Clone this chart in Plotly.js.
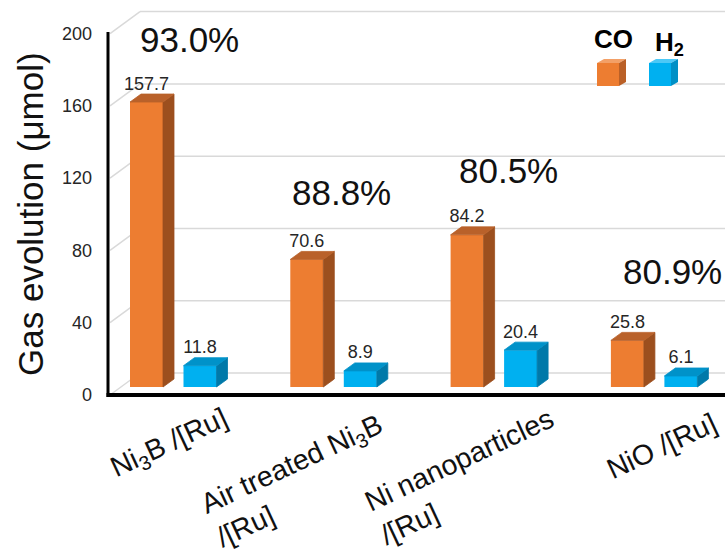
<!DOCTYPE html>
<html><head><meta charset="utf-8">
<script src="https://cdn.plot.ly/plotly-3.0.1.min.js"></script>
<style>html,body{margin:0;padding:0;background:#fff}#chart{width:725px;height:555px}</style>
</head><body><div id="chart"></div>
<script>
// ---------- data ----------
const categories = ['Ni<sub>3</sub>B /[Ru]', 'Air treated Ni<sub>3</sub>B<br>/[Ru]', 'Ni nanoparticles<br>/[Ru]', 'NiO /[Ru]'];
const coValues = [157.7, 70.6, 84.2, 25.8];
const h2Values = [11.8, 8.9, 20.4, 6.1];
const selectivity = ['93.0%', '88.8%', '80.5%', '80.9%'];
const yTicks = [0, 40, 80, 120, 160, 200];
const seriesNames = ['CO', 'H<sub>2</sub>'];

// ---------- geometry / style ----------
const FONT = 'Liberation Sans, Arial, sans-serif';
const PL = 108, PR = 725, PT = 5, PB = 402;
const X0 = -0.4086, X1 = 3.4404, KX = (PR - PL) / (X1 - X0);
const Y0 = -8.30, Y1 = 211.40, KY = (PB - PT) / (Y1 - Y0);
const BAR_W = 33 / KX, DX = 11 / KX, DY = 8 / KY;
const OFF = [-27 / KX, 26.5 / KX];
const WALL_DY = 14 / KY, LABEL_SHIFT = 8 / KY, WALL_X = X0 + 32 / KX, DIAG_X = X0 + 2 / KX;
const paperX = px => (px - PL) / (PR - PL);
const paperY = py => (PB - py) / (PB - PT);
const dataX = px => X0 + (px - PL) / KX;
const dataY = py => Y0 + (PB - py) / KY;
const COL = {
  co: {front: '#ED7D31', top: '#B9612A', side: '#9C4F1E', ltop: '#F3A067', lside: '#BA6027'},
  h2: {front: '#00B0F0', top: '#0092C9', side: '#0079A9', ltop: '#4CC8F6', lside: '#0090C6'}
};

function faces(vals, off) {
  const sx = [], sy = [], tx = [], ty = [];
  vals.forEach((v, i) => {
    const xl = i + off - BAR_W / 2, xr = i + off + BAR_W / 2;
    sx.push(xr, xr, xr + DX, xr + DX, xr, null); sy.push(0, v, v + DY, DY, 0, null);
    tx.push(xl, xr, xr + DX, xl + DX, xl, null); ty.push(v, v, v + DY, v + DY, v, null);
  });
  return {sx, sy, tx, ty};
}

const traces = [];
[[coValues, COL.co, OFF[0]], [h2Values, COL.h2, OFF[1]]].forEach(([vals, c, off], k) => {
  traces.push({type: 'bar', x: vals.map((_, i) => i + off), y: vals, width: BAR_W,
    marker: {color: c.front, line: {width: 0}}, showlegend: false, hoverinfo: 'skip', name: seriesNames[k]});
  const f = faces(vals, off);
  traces.push({type: 'scatter', x: f.sx, y: f.sy, mode: 'lines', fill: 'toself', fillcolor: c.side,
    line: {width: 0.8, color: c.side}, showlegend: false, hoverinfo: 'skip'});
  traces.push({type: 'scatter', x: f.tx, y: f.ty, mode: 'lines', fill: 'toself', fillcolor: c.top,
    line: {width: 0.8, color: c.top}, showlegend: false, hoverinfo: 'skip'});
});
[[coValues, OFF[0]], [h2Values, OFF[1]]].forEach(([vals, off]) => {
  traces.push({type: 'scatter', mode: 'text', x: vals.map((_, i) => i + off), y: vals.map(v => v + DY),
    text: vals.map(v => v.toFixed(1)), textposition: 'top center',
    textfont: {family: FONT, size: 18, color: '#262626'}, cliponaxis: false, showlegend: false, hoverinfo: 'skip'});
});

// ---------- shapes ----------
const shapes = [];
yTicks.forEach(t => {
  shapes.push({type: 'line', layer: 'below', xref: 'x', yref: 'y', x0: WALL_X, x1: X1, y0: t + WALL_DY, y1: t + WALL_DY,
    line: {color: '#d9d9d9', width: 1.5}});
  shapes.push({type: 'line', layer: 'below', xref: 'x', yref: 'y', x0: DIAG_X, x1: WALL_X, y0: t - LABEL_SHIFT, y1: t + WALL_DY,
    line: {color: '#d9d9d9', width: 1.5}});
});
// axis lines
shapes.push({type: 'line', xref: 'paper', yref: 'paper', x0: 0, x1: 0, y0: paperY(397), y1: paperY(32), line: {color: '#000', width: 3}});
shapes.push({type: 'line', xref: 'paper', yref: 'paper', x0: paperX(106.5), x1: 1, y0: paperY(395), y1: paperY(395), line: {color: '#000', width: 4}});
// legend cubes
function cube(x, y, w, h, dx, dy, c) {
  const P = (a, b) => paperX(a).toFixed(5) + ',' + paperY(b).toFixed(5);
  return [
    {type: 'path', xref: 'paper', yref: 'paper', path: `M${P(x, y)} L${P(x + w, y)} L${P(x + w, y + h)} L${P(x, y + h)} Z`, fillcolor: c.front, line: {width: 0}},
    {type: 'path', xref: 'paper', yref: 'paper', path: `M${P(x, y)} L${P(x + w, y)} L${P(x + w + dx, y - dy)} L${P(x + dx, y - dy)} Z`, fillcolor: c.ltop, line: {width: 0}},
    {type: 'path', xref: 'paper', yref: 'paper', path: `M${P(x + w, y)} L${P(x + w + dx, y - dy)} L${P(x + w + dx, y + h - dy)} L${P(x + w, y + h)} Z`, fillcolor: c.lside, line: {width: 0}}
  ];
}
shapes.push(...cube(597, 63, 22, 23, 7, 4, COL.co), ...cube(649, 63, 22, 23, 7, 4, COL.h2));

// ---------- annotations ----------
const annotations = [];
const pctPx = [[189, 39], [341, 192], [508, 170], [672, 271]];
selectivity.forEach((s, i) => annotations.push({xref: 'x', yref: 'y', x: dataX(pctPx[i][0]), y: dataY(pctPx[i][1]),
  text: s, showarrow: false, xanchor: 'center', yanchor: 'middle', font: {family: FONT, size: 35, color: '#111'}}));
const catPx = [[169, 444], [299, 480], [467, 477], [661, 446]];
categories.forEach((c, i) => annotations.push({xref: 'paper', yref: 'paper', x: paperX(catPx[i][0]), y: paperY(catPx[i][1]),
  text: c, showarrow: false, textangle: -25, align: 'left', xanchor: 'center', yanchor: 'middle',
  font: {family: FONT, size: 28.5, color: '#111'}}));
annotations.push({xref: 'paper', yref: 'paper', x: paperX(30), y: paperY(214), text: 'Gas evolution (μmol)', textangle: -90,
  showarrow: false, xanchor: 'center', yanchor: 'middle', font: {family: FONT, size: 35, color: '#111'}});
annotations.push({xref: 'paper', yref: 'paper', x: paperX(613), y: paperY(39), text: '<b>' + seriesNames[0] + '</b>',
  showarrow: false, xanchor: 'center', yanchor: 'middle', font: {family: FONT, size: 26, color: '#000'}});
annotations.push({xref: 'paper', yref: 'paper', x: paperX(669), y: paperY(43), text: '<b>' + seriesNames[1] + '</b>',
  showarrow: false, xanchor: 'center', yanchor: 'middle', font: {family: FONT, size: 26, color: '#000'}});

const layout = {
  width: 725, height: 555, margin: {l: PL, r: 725 - PR, t: PT, b: 555 - PB, pad: 0},
  paper_bgcolor: '#fff', plot_bgcolor: 'rgba(0,0,0,0)', barmode: 'overlay', showlegend: false,
  xaxis: {range: [X0, X1], showgrid: false, zeroline: false, showline: false, showticklabels: false, ticks: '', fixedrange: true},
  yaxis: {range: [Y0, Y1], showgrid: false, zeroline: false, showline: false, ticks: '',
    tickvals: yTicks.map(t => t - LABEL_SHIFT), ticktext: yTicks.map(String), ticklabelstandoff: 15,
    tickfont: {family: FONT, size: 18, color: '#262626'}, fixedrange: true},
  shapes, annotations, font: {family: FONT}
};
Plotly.newPlot('chart', traces, layout, {displayModeBar: false, staticPlot: true});
</script></body></html>
